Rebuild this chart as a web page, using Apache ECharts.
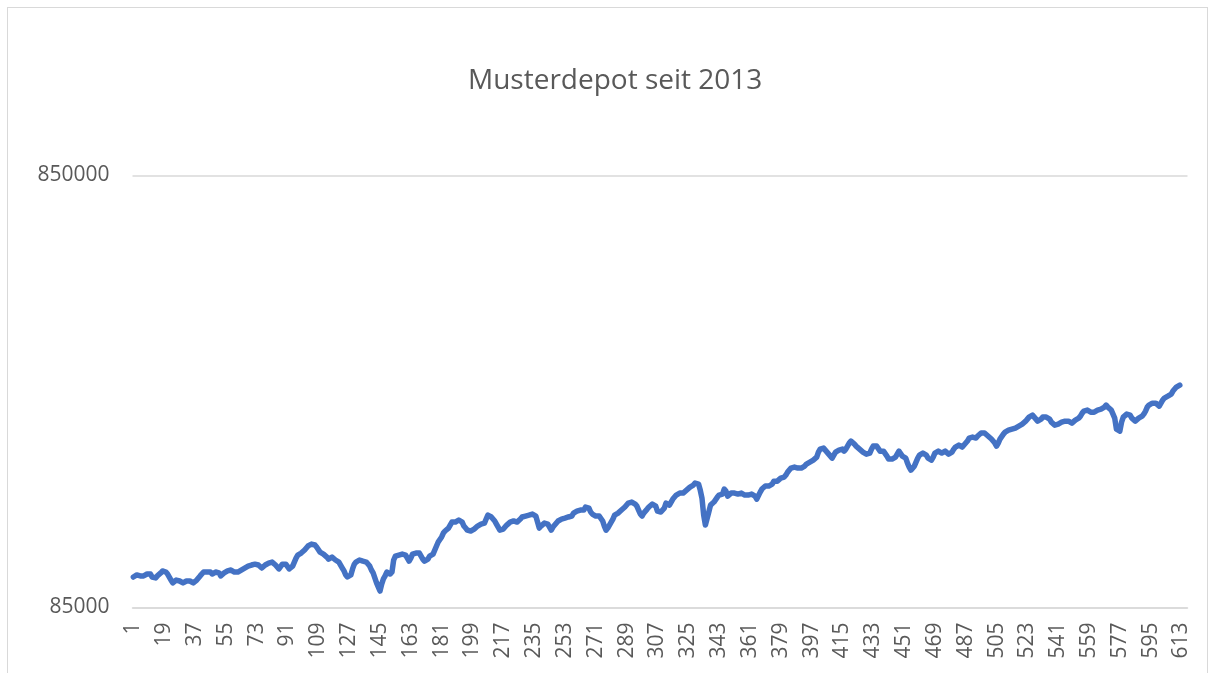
<!DOCTYPE html>
<html>
<head>
<meta charset="utf-8">
<title>Musterdepot seit 2013</title>
<script src="https://cdn.jsdelivr.net/npm/echarts@6/dist/echarts.min.js"></script>
<style>
  html, body { margin: 0; padding: 0; background: #fff; }
  #chart { width: 1214px; height: 673px; }
  .frame { position: absolute; left: 7px; top: 7px; width: 1199px; height: 700px; border: 1px solid #d9d9d9; pointer-events: none; }
</style>
</head>
<body>
<div id="chart"></div>
<div class="frame"></div>
<script>
const chartTitle = "Musterdepot seit 2013";

// categories 1..616 (x axis), one entry per week
const categoryCount = 616;
const categories = Array.from({ length: categoryCount }, (_, i) => String(i + 1));

// y axis ticks (log scale)
const yTicks = [85000, 850000];

// depot value per week
const depotValues = [
    100000,100600,101100,101100,100600,101100,100600,100600,101600,102200,101600,100000,99000,99500,100600,101100,102200,103300,103300,102700,101600,100000,98400,96900,97900,98400,99000,97900,97400,96900,
    97400,97900,98400,97900,97400,96900,96900,98400,99500,100600,101600,102700,103300,102700,103300,102700,101600,101100,102700,103800,102200,100600,101100,102200,102700,103300,103800,103800,103300,102700,102200,
    102700,103300,103800,104400,104900,105500,106000,106000,106600,106600,107100,106600,106600,105500,104900,105500,106600,107100,107700,108300,108300,107700,106600,105500,104400,105500,107100,107700,107100,106000,
    104400,104900,106000,108300,110600,112400,113000,113600,114200,115500,116700,118000,118600,119200,118600,118600,117300,116100,114200,113600,113000,113000,111200,110000,110600,111200,110600,109500,108800,108300,106600,104900,103300,
    101100,100000,100000,101100,104400,107100,108300,108800,109500,108800,108800,108300,108300,107700,106000,103800,102200,99500,96900,94800,92800,96300,99000,100600,102700,103300,101600,102700,109500,111800,111800,112400,112400,113000,113600,112400,
    110600,108800,110600,113000,113600,113600,114200,113600,111800,110000,108800,108300,110000,111800,112400,113000,114200,118000,120500,121200,123800,126400,127800,129100,129800,131900,134000,134800,134000,134000,135500,136200,134000,131200,129800,128400,127800,127800,128400,129100,
    129800,131200,131900,132600,132600,133300,136200,139100,138400,137700,136900,134800,132600,130500,128400,127100,129100,130500,131900,132600,134000,134000,134800,134000,134000,134800,136200,137700,138400,138400,138400,139100,139900,139900,139100,138400,134000,129800,131200,131900,
    133300,134000,132600,130500,128400,130500,131900,133300,134800,135500,136200,136900,136900,137700,137700,137700,138400,140600,142100,142100,142900,142900,142100,142900,145200,146700,144400,141400,139900,139100,138400,137700,138400,139100,134800,131200,128400,129800,131900,134000,
    136200,139100,139900,140600,141400,142900,144400,145200,146700,148300,148300,149100,148300,147500,145900,142900,139900,138400,140600,142100,143600,145200,145900,147500,148300,145900,142100,140600,141400,141400,144400,148300,148300,146700,149100,151500,153100,154800,156400,
    156400,155600,156400,157200,158900,160600,161500,161500,163200,165000,165800,164100,158900,152300,139100,131900,132600,141400,146700,147500,149100,149900,153100,154800,153900,155600,159800,158100,153900,154800,156400,157200,156400,154800,155600,156400,156400,155600,154800,153900,154800,
    154800,155600,156400,153900,151500,152300,157200,159800,161500,162400,162400,162400,161500,164100,166700,167600,166700,167600,169400,169400,170300,172200,174900,176800,178700,179700,179700,178700,178700,178700,178700,179700,180600,182600,183500,184500,185500,186500,187500,189500,
    194600,197700,198800,198800,197700,194600,192500,190500,188500,190500,194600,195600,196700,198800,197700,195600,197700,200900,204200,206400,205300,203100,200900,199900,197700,196700,194600,193600,192500,192500,193600,197700,200900,200900,200900,198800,195600,194600,195600,194600,190500,187500,186500,187500,188500,189500,192500,195600,193600,190500,
    190500,188500,183500,179700,176800,177800,180600,184500,188500,191500,192500,193600,193600,191500,188500,187500,186500,189500,193600,195600,195600,194600,193600,194600,195600,195600,192500,190500,194600,197700,199900,202000,202000,200900,199900,202000,204200,206400,209700,210800,210800,209700,209700,212000,214200,215400,215400,215400,214200,212000,
    210800,208600,206400,204200,200900,204200,208600,210800,214200,216500,217700,218800,218800,220000,220000,221200,222400,223500,224700,225900,228300,229500,232000,234500,235700,237000,234500,232000,229500,229500,232000,234500,234500,234500,234500,232000,228300,227100,224700,223500,225900,227100,228300,228300,229500,229500,
    229500,227100,227100,229500,230800,232000,233200,235700,239500,242100,242100,243400,242100,240800,239500,240800,242100,243400,244700,244700,246000,247300,250000,247300,244700,243400,242100,233200,220000,217700,217700,228300,234500,237000,238300,239500,237000,233200,230800,229500,230800,233200,234500,235700,238300,242100,247300,250000,251300,252600,254000,252600,250000,248600,252600,256700,259500,260800,262200,263700,265100,269400,272200,275200,276600,278100
];

const textColor = "#595959";
const gridColor = "#d9d9d9";
const lineColor = "#4472c4";
const fontFamily = "'Open Sans', 'Liberation Sans', sans-serif";

const chart = echarts.init(document.getElementById("chart"));

chart.setOption({
    animation: false,
    backgroundColor: "#ffffff",
    title: {
        text: chartTitle,
        left: 463,
        top: 62,
        textStyle: {
            color: textColor,
            fontFamily: fontFamily,
            fontSize: 28,
            fontWeight: "normal",
        },
    },
    grid: {
        left: 132.5,
        right: 26.5,
        top: 175.5,
        bottom: 65.5,
        containLabel: false,
    },
    xAxis: {
        type: "category",
        data: categories,
        boundaryGap: true,
        axisLine: { show: true, lineStyle: { color: gridColor, width: 1.5 } },
        axisTick: { show: false },
        splitLine: { show: false },
        axisLabel: {
            interval: 17,
            rotate: 90,
            margin: 15,
            color: textColor,
            fontFamily: fontFamily,
            fontSize: 21,
        },
    },
    yAxis: {
        type: "log",
        logBase: 10,
        min: yTicks[0],
        max: yTicks[yTicks.length - 1],
        axisLine: { show: false },
        axisTick: { show: false, customValues: yTicks },
        splitLine: { show: true, lineStyle: { color: gridColor, width: 1.5 } },
        axisLabel: {
            customValues: yTicks,
            margin: 23,
            color: textColor,
            fontFamily: fontFamily,
            fontSize: 21,
            formatter: (value) => String(Math.round(value)),
        },
    },
    series: [
        {
            name: chartTitle,
            type: "line",
            data: depotValues,
            showSymbol: false,
            symbol: "none",
            smooth: false,
            lineStyle: { color: lineColor, width: 5.5, cap: "round", join: "round" },
        },
    ],
});
</script>
</body>
</html>
